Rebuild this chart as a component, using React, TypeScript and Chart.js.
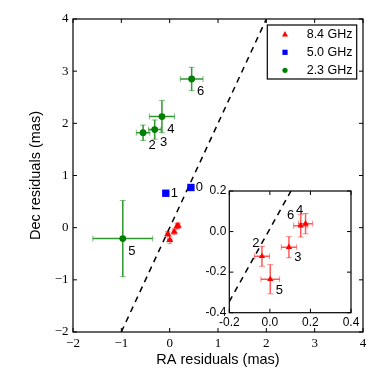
import React, { useEffect, useRef } from 'react';
import { Chart, registerables } from 'chart.js';

Chart.register(...registerables);

// ---------- data ----------
const legendLabels = ['8.4 GHz', '5.0 GHz', '2.3 GHz'];

// 8.4 GHz (red triangles)
const redLabels = ['2', '5', '3', '6', '4'];
const redX = [-0.039, 0.002, 0.094, 0.152, 0.176];
const redY = [-0.122, -0.235, -0.077, 0.029, 0.039];
const redXErr = [0.037, 0.046, 0.038, 0.035, 0.035];
const redYErr = [0.049, 0.072, 0.052, 0.056, 0.05];

// 5.0 GHz (blue squares)
const blueLabels = ['1', '0'];
const blueX = [-0.08, 0.44];
const blueY = [0.66, 0.77];

// 2.3 GHz (green circles)
const greenLabels = ['6', '4', '3', '2', '5'];
const greenX = [0.455, -0.16, -0.31, -0.55, -0.97];
const greenY = [2.85, 2.13, 1.88, 1.82, -0.21];
const greenXErr = [0.235, 0.26, 0.13, 0.14, 0.62];
const greenYErr = [0.224, 0.31, 0.185, 0.147, 0.73];

// dashed reference lines
const mainLineX = [-1, 2];
const mainLineY = [-2, 4];
const insetLineX = [-0.2, 0.104];
const insetLineY = [-0.345, 0.2];

// ticks
const mainXTicks = [-2, -1, 0, 1, 2, 3, 4];
const mainYTicks = [-2, -1, 0, 1, 2, 3, 4];
const insetXTicks = [-0.2, 0, 0.2, 0.4];
const insetYTicks = [-0.4, -0.2, 0, 0.2];

const xTitle = 'RA residuals (mas)';
const yTitle = 'Dec residuals (mas)';

// ---------- styling ----------
const SANS = "'Liberation Sans', Arial, sans-serif";
const SERIF = "'Liberation Serif', 'Times New Roman', serif";
const RED = '#ff0000';
const BLUE = '#0000ff';
const GREEN = '#008000';

const greenLabelOffsets = [[9, 12.5], [9, 12.5], [9, 12.5], [9, 12.5], [9, 12.5]];
const blueLabelOffsets = [[8.5, 0], [8.5, 0]];
const insetRedLabelOffsets = [[-6, -13], [9, 11], [9, 10], [-10, -10], [-6, -13]];

const pts = (xs: number[], ys: number[]) => xs.map((x, i) => ({ x, y: ys[i] }));

const fmtMain = (v: number) => (v < 0 ? '\u2212' + Math.abs(v) : String(v));
const fmtInset = (v: number) => v.toFixed(1);

// ---------- plugins ----------
const errorBarPlugin = {
  id: 'errorBars',
  beforeDatasetsDraw(chart: any) {
    const { ctx } = chart;
    const xs = chart.scales.x;
    const ys = chart.scales.y;
    chart.data.datasets.forEach((ds: any) => {
      if (!ds.xErr) return;
      ds.data.forEach((p: any, i: number) => {
        const cx = xs.getPixelForValue(p.x);
        const cy = ys.getPixelForValue(p.y);
        const x1 = xs.getPixelForValue(p.x - ds.xErr[i]);
        const x2 = xs.getPixelForValue(p.x + ds.xErr[i]);
        const y1 = ys.getPixelForValue(p.y + ds.yErr[i]);
        const y2 = ys.getPixelForValue(p.y - ds.yErr[i]);
        const cap = ds.capSize || 3;
        ctx.save();
        ctx.strokeStyle = ds.errColor;
        ctx.lineWidth = ds.errWidth || 1.5;
        ctx.beginPath();
        ctx.moveTo(x1, cy);
        ctx.lineTo(x2, cy);
        ctx.moveTo(cx, y1);
        ctx.lineTo(cx, y2);
        ctx.stroke();
        ctx.strokeStyle = ds.capColor;
        ctx.lineWidth = 1;
        ctx.beginPath();
        ctx.moveTo(x1, cy - cap);
        ctx.lineTo(x1, cy + cap);
        ctx.moveTo(x2, cy - cap);
        ctx.lineTo(x2, cy + cap);
        ctx.moveTo(cx - cap, y1);
        ctx.lineTo(cx + cap, y1);
        ctx.moveTo(cx - cap, y2);
        ctx.lineTo(cx + cap, y2);
        ctx.stroke();
        ctx.restore();
      });
    });
  },
};

const pointLabelPlugin = {
  id: 'pointLabels',
  afterDatasetsDraw(chart: any) {
    const { ctx } = chart;
    const xs = chart.scales.x;
    const ys = chart.scales.y;
    chart.data.datasets.forEach((ds: any) => {
      if (!ds.pointLabels) return;
      ds.data.forEach((p: any, i: number) => {
        const off = ds.labelOffsets[i];
        ctx.save();
        ctx.fillStyle = '#000';
        ctx.font = `${ds.labelFontSize || 13}px ${SANS}`;
        ctx.textAlign = 'center';
        ctx.textBaseline = 'middle';
        ctx.fillText(ds.pointLabels[i], xs.getPixelForValue(p.x) + off[0], ys.getPixelForValue(p.y) + off[1]);
        ctx.restore();
      });
    });
  },
};

const framePlugin = {
  id: 'frame',
  beforeDraw(chart: any, _a: any, opts: any) {
    if (!opts.fillWhite) return;
    const { ctx, chartArea: a } = chart;
    ctx.save();
    ctx.fillStyle = '#fff';
    ctx.fillRect(a.left, a.top, a.right - a.left, a.bottom - a.top);
    ctx.restore();
  },
  afterDatasetsDraw(chart: any, _a: any, opts: any) {
    const { ctx, chartArea: a } = chart;
    const len = opts.tickLen || 4;
    ctx.save();
    ctx.strokeStyle = '#000';
    ctx.lineWidth = 1;
    ctx.beginPath();
    chart.scales.x.ticks.forEach((t: any) => {
      const px = chart.scales.x.getPixelForValue(t.value);
      ctx.moveTo(px, a.bottom);
      ctx.lineTo(px, a.bottom - len);
      ctx.moveTo(px, a.top);
      ctx.lineTo(px, a.top + len);
    });
    chart.scales.y.ticks.forEach((t: any) => {
      const py = chart.scales.y.getPixelForValue(t.value);
      ctx.moveTo(a.left, py);
      ctx.lineTo(a.left + len, py);
      ctx.moveTo(a.right, py);
      ctx.lineTo(a.right - len, py);
    });
    ctx.stroke();
    ctx.lineWidth = 1.2;
    ctx.strokeRect(a.left, a.top, a.right - a.left, a.bottom - a.top);
    ctx.restore();
  },
};

const legendPlugin = {
  id: 'boxLegend',
  afterDraw(chart: any) {
    const { ctx, chartArea: a } = chart;
    const right = a.right - 6.3;
    const top = a.top + 6;
    const w = 89.4;
    const h = 54;
    const left = right - w;
    ctx.save();
    ctx.fillStyle = '#fff';
    ctx.fillRect(left, top, w, h);
    ctx.strokeStyle = '#000';
    ctx.lineWidth = 1.2;
    ctx.strokeRect(left, top, w, h);
    const mx = left + 17.7;
    const tx = left + 39.4;
    const rows = [top + 9.3, top + 27.3, top + 45.3];
    ctx.fillStyle = RED;
    ctx.beginPath();
    ctx.moveTo(mx, rows[0] - 3.2);
    ctx.lineTo(mx + 3, rows[0] + 2.2);
    ctx.lineTo(mx - 3, rows[0] + 2.2);
    ctx.closePath();
    ctx.fill();
    ctx.fillStyle = BLUE;
    ctx.fillRect(mx - 2.6, rows[1] - 2.6, 5.2, 5.2);
    ctx.fillStyle = GREEN;
    ctx.beginPath();
    ctx.arc(mx, rows[2], 2.6, 0, Math.PI * 2);
    ctx.fill();
    ctx.fillStyle = '#000';
    ctx.font = `12.5px ${SANS}`;
    ctx.textAlign = 'left';
    ctx.textBaseline = 'middle';
    legendLabels.forEach((t, i) => ctx.fillText(t, tx, rows[i] + 0.5));
    ctx.restore();
  },
};

export default function App() {
  const mainRef = useRef<HTMLCanvasElement>(null);
  const insetRef = useRef<HTMLCanvasElement>(null);

  useEffect(() => {
    const noGrid = { display: false, drawTicks: false, tickLength: 0 };
    const mainChart = new Chart(mainRef.current as HTMLCanvasElement, {
      type: 'scatter',
      data: {
        datasets: [
          {
            label: legendLabels[0],
            data: pts(redX, redY),
            pointStyle: 'triangle',
            pointRadius: 4,
            borderWidth: 0,
            backgroundColor: RED,
            borderColor: RED,
            xErr: redXErr,
            yErr: redYErr,
            errColor: 'rgba(255,0,0,0.6)',
            capColor: 'rgba(255,0,0,0.45)',
            errWidth: 1.3,
            capSize: 2.5,
          } as any,
          {
            label: legendLabels[1],
            data: pts(blueX, blueY),
            pointStyle: 'rect',
            pointRadius: 5.2,
            borderWidth: 0,
            backgroundColor: BLUE,
            borderColor: BLUE,
            pointLabels: blueLabels,
            labelOffsets: blueLabelOffsets,
          } as any,
          {
            label: legendLabels[2],
            data: pts(greenX, greenY),
            pointStyle: 'circle',
            pointRadius: 3.4,
            borderWidth: 0,
            backgroundColor: GREEN,
            borderColor: GREEN,
            xErr: greenXErr,
            yErr: greenYErr,
            errColor: 'rgba(0,128,0,0.82)',
            capColor: 'rgba(0,128,0,0.5)',
            errWidth: 1.5,
            capSize: 3,
            pointLabels: greenLabels,
            labelOffsets: greenLabelOffsets,
          } as any,
          {
            label: 'line',
            data: pts(mainLineX, mainLineY),
            showLine: true,
            borderColor: '#000',
            borderWidth: 1.5,
            borderDash: [6, 5],
            pointRadius: 0,
          } as any,
        ],
      },
      options: {
        animation: false,
        responsive: false,
        layout: { padding: { top: 19, right: 19, left: 0, bottom: 0 } },
        plugins: {
          legend: { display: false },
          tooltip: { enabled: false },
          frame: { tickLen: 4 },
        } as any,
        scales: {
          x: {
            type: 'linear',
            min: -2,
            max: 4,
            afterBuildTicks: (s: any) => {
              s.ticks = mainXTicks.map((v) => ({ value: v }));
            },
            afterFit: (s: any) => {
              s.height = 50;
            },
            grid: noGrid,
            border: { display: false },
            ticks: {
              color: '#000',
              font: { family: SERIF, size: 13 },
              padding: 4,
              maxRotation: 0,
              autoSkip: false,
              callback: (v: any) => fmtMain(Number(v)),
            },
            title: {
              display: true,
              text: xTitle,
              color: '#000',
              font: { family: SANS, size: 14.5 },
              padding: { top: 0, bottom: 13.3 },
            },
          },
          y: {
            type: 'linear',
            min: -2,
            max: 4,
            afterBuildTicks: (s: any) => {
              s.ticks = mainYTicks.map((v) => ({ value: v }));
            },
            afterFit: (s: any) => {
              s.width = 73;
            },
            grid: noGrid,
            border: { display: false },
            ticks: {
              color: '#000',
              font: { family: SERIF, size: 13 },
              padding: 4.5,
              autoSkip: false,
              callback: (v: any) => fmtMain(Number(v)),
            },
            title: {
              display: true,
              text: yTitle,
              color: '#000',
              font: { family: SANS, size: 14.5 },
              padding: { top: 27, bottom: 0 },
            },
          },
        } as any,
      },
      plugins: [errorBarPlugin, pointLabelPlugin, framePlugin, legendPlugin],
    });

    const insetChart = new Chart(insetRef.current as HTMLCanvasElement, {
      type: 'scatter',
      data: {
        datasets: [
          {
            label: legendLabels[0],
            data: pts(redX, redY),
            pointStyle: 'triangle',
            pointRadius: 3.6,
            borderWidth: 0,
            backgroundColor: RED,
            borderColor: RED,
            xErr: redXErr,
            yErr: redYErr,
            errColor: 'rgba(255,0,0,0.65)',
            capColor: 'rgba(255,0,0,0.45)',
            errWidth: 1.5,
            capSize: 3,
            pointLabels: redLabels,
            labelOffsets: insetRedLabelOffsets,
            labelFontSize: 13,
          } as any,
          {
            label: 'line',
            data: pts(insetLineX, insetLineY),
            showLine: true,
            borderColor: '#000',
            borderWidth: 1.5,
            borderDash: [6, 5],
            pointRadius: 0,
          } as any,
        ],
      },
      options: {
        animation: false,
        responsive: false,
        layout: { padding: { top: 11, right: 24, left: 0, bottom: 0 } },
        plugins: {
          legend: { display: false },
          tooltip: { enabled: false },
          frame: { tickLen: 4, fillWhite: true },
        } as any,
        scales: {
          x: {
            type: 'linear',
            min: -0.2,
            max: 0.4,
            afterBuildTicks: (s: any) => {
              s.ticks = insetXTicks.map((v) => ({ value: v }));
            },
            afterFit: (s: any) => {
              s.height = 27.3;
            },
            grid: noGrid,
            border: { display: false },
            ticks: {
              color: '#000',
              font: { family: SANS, size: 12 },
              padding: 3,
              maxRotation: 0,
              autoSkip: false,
              callback: (v: any) => fmtInset(Number(v)),
            },
          },
          y: {
            type: 'linear',
            min: -0.4,
            max: 0.2,
            afterBuildTicks: (s: any) => {
              s.ticks = insetYTicks.map((v) => ({ value: v }));
            },
            afterFit: (s: any) => {
              s.width = 29.3;
            },
            grid: noGrid,
            border: { display: false },
            ticks: {
              color: '#000',
              font: { family: SANS, size: 12 },
              padding: 3,
              autoSkip: false,
              callback: (v: any) => fmtInset(Number(v)),
            },
          },
        } as any,
      },
      plugins: [framePlugin, errorBarPlugin, pointLabelPlugin],
    });

    return () => {
      mainChart.destroy();
      insetChart.destroy();
    };
  }, []);

  return (
    <div style={{ position: 'fixed', left: 0, top: 0, width: 382, height: 382, background: '#fff' }}>
      <canvas ref={mainRef} width={382} height={382} style={{ position: 'absolute', left: 0, top: 0 }} />
      <canvas ref={insetRef} width={175} height={160} style={{ position: 'absolute', left: 200, top: 180 }} />
    </div>
  );
}
